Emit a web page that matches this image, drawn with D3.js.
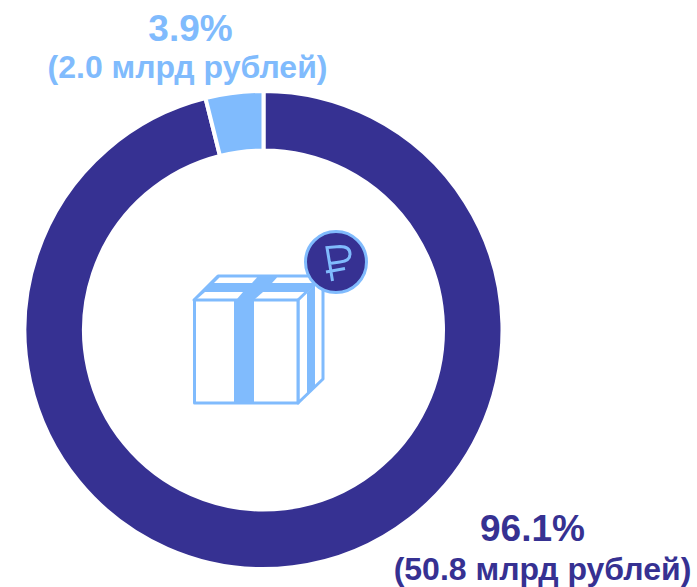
<!DOCTYPE html>
<html>
<head>
<meta charset="utf-8">
<script src="https://d3js.org/d3.v7.min.js"></script>
<style>
  html, body { margin: 0; padding: 0; background: #fff; }
  svg { display: block; }
  text { font-family: "Liberation Sans", Arial, sans-serif; font-weight: bold; text-anchor: middle; }
</style>
</head>
<body>
<div id="chart"></div>
<script>
var categories = ["Основная часть", "Малая часть"]
var shares = [96.1, 3.9]
var amounts = ["50.8", "2.0"]
var colors = ["#363192", "#80BBFD"]

var width = 697, height = 587
var cx = 263.5, cy = 330

var svg = d3.select("#chart")
    .append("svg")
      .attr("width", width)
      .attr("height", height)

// Donut
var pie = d3.pie().sort(null)
var arc = d3.arc().innerRadius(179.5).outerRadius(239)

svg.append("g")
    .attr("transform", "translate(" + cx + "," + cy + ")")
  .selectAll("path")
    .data(pie(shares))
    .join("path")
      .attr("d", arc)
      .attr("fill", function(d, i) { return colors[i] })
      .attr("stroke", "#fff")
      .attr("stroke-width", 4)

// Labels
var labelPos = [
  { x: 532.5, x2: 542.5, y1: 541, y2: 580 },
  { x: 190.5, x2: 187.5, y1: 41, y2: 78 }
]

labelPos.forEach(function(p, i) {
  svg.append("text")
      .attr("x", p.x)
      .attr("y", p.y1)
      .attr("fill", colors[i])
      .style("font-size", "37px")
      .text(shares[i] + "%")
  svg.append("text")
      .attr("x", p.x2)
      .attr("y", p.y2)
      .attr("fill", colors[i])
      .style("font-size", "32px")
      .text("(" + amounts[i] + " млрд рублей)")
})

// Gift box icon
var lb = colors[1]
var icon = svg.append("g")
    .attr("fill", "none")
    .attr("stroke", lb)
    .attr("stroke-width", 3)
    .attr("stroke-linejoin", "round")

// top lid filled, with white panels
icon.append("path").attr("d", "M194,300 L218,276 L323,276 L298,300 Z").attr("fill", lb)
icon.append("path").attr("d", "M214,283 L219.5,277.5 L257,277.5 L252,283 Z").attr("fill", "#fff").attr("stroke", "none")
icon.append("path").attr("d", "M272,283 L277,277.5 L319,277.5 L313,283 Z").attr("fill", "#fff").attr("stroke", "none")
icon.append("path").attr("d", "M197,299 L205,292 L243,292 L237,299 Z").attr("fill", "#fff").attr("stroke", "none")
icon.append("path").attr("d", "M255,299 L263,292 L305,292 L298,299 Z").attr("fill", "#fff").attr("stroke", "none")

// side face
icon.append("path").attr("d", "M298,300 L323,276 L323,379 L298,403 Z").attr("fill", "#fff")
icon.append("path").attr("d", "M307,293 L315,285 L315,386 L307,394 Z").attr("fill", lb).attr("stroke", "none")

// front face and ribbon
icon.append("rect").attr("x", 194.5).attr("y", 300).attr("width", 103.5).attr("height", 103).attr("fill", "#fff")
icon.append("rect").attr("x", 234).attr("y", 300).attr("width", 20).attr("height", 103).attr("fill", lb).attr("stroke", "none")

// rouble coin
svg.append("circle")
    .attr("cx", 336)
    .attr("cy", 262)
    .attr("r", 30.5)
    .attr("fill", colors[0])
    .attr("stroke", lb)
    .attr("stroke-width", 3)
svg.append("path")
    .attr("d", "M332.5,281 L327,247.5 L340,246.5 Q350,246.5 350,254 Q350,261 340,262 L329.5,263.5 M326,272 L345,268.5")
    .attr("fill", "none")
    .attr("stroke", lb)
    .attr("stroke-width", 3)
</script>
</body>
</html>
